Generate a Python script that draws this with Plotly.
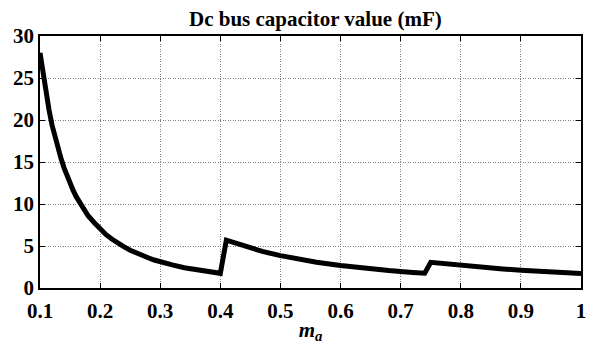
import plotly.graph_objects as go

m_a = [0.100, 0.105, 0.110, 0.115, 0.120, 0.125, 0.130, 0.135, 0.140, 0.145,
       0.150, 0.155, 0.160, 0.165, 0.170, 0.175, 0.180, 0.190, 0.200, 0.210,
       0.22, 0.23, 0.24, 0.25, 0.26, 0.27, 0.28, 0.29, 0.30, 0.32, 0.34, 0.36,
       0.38, 0.40,
       0.41, 0.43, 0.45, 0.47, 0.50, 0.53, 0.56, 0.60, 0.64, 0.68, 0.72, 0.74,
       0.75, 0.78, 0.81, 0.84, 0.87, 0.90, 0.93, 0.96, 1.00]
cap_mF = [28.0, 25.4, 23.2, 21.2, 19.4, 17.9, 16.6, 15.4, 14.3, 13.3,
          12.4, 11.65, 10.9, 10.3, 9.7, 9.15, 8.6, 7.8, 7.0, 6.35,
          5.8, 5.3, 4.9, 4.5, 4.15, 3.85, 3.6, 3.33, 3.1, 2.75, 2.42, 2.16,
          1.94, 1.75,
          5.7, 5.2, 4.75, 4.35, 3.85, 3.42, 3.07, 2.68, 2.35, 2.08, 1.85, 1.76,
          3.05, 2.82, 2.62, 2.43, 2.27, 2.12, 1.99, 1.87, 1.73]

x_ticks = [0.1, 0.2, 0.3, 0.4, 0.5, 0.6, 0.7, 0.8, 0.9, 1.0]
x_tick_labels = ["0.1", "0.2", "0.3", "0.4", "0.5", "0.6", "0.7", "0.8", "0.9", "1"]
y_ticks = [0, 5, 10, 15, 20, 25, 30]
y_tick_labels = ["0", "5", "10", "15", "20", "25", "30"]

FONT = "Liberation Serif"

fig = go.Figure()
fig.add_trace(go.Scatter(x=m_a, y=cap_mF, mode="lines",
                         line=dict(color="black", width=5), showlegend=False))

axis_common = dict(
    showline=True, linecolor="black", linewidth=1.5, mirror="ticks",
    ticks="inside", ticklen=5, tickwidth=1, tickcolor="black",
    showgrid=True, gridcolor="#808080", gridwidth=1, griddash="1px,1.5px",
    zeroline=False,
    tickfont=dict(family=FONT, size=21, color="black", weight="bold"),
)

fig.update_xaxes(range=[0.1, 1.0], tickvals=x_ticks, ticktext=x_tick_labels,
                 ticklabelstandoff=3,
                 title=dict(text="<i><b>m</b><sub>a</sub></i>",
                            font=dict(family=FONT, size=21, color="black", weight="bold"),
                            standoff=0),
                 **axis_common)
fig.update_yaxes(range=[0, 30], tickvals=y_ticks, ticktext=y_tick_labels,
                 **axis_common)

fig.update_layout(
    width=595, height=347,
    margin=dict(l=40, r=9, t=36, b=51),
    paper_bgcolor="white", plot_bgcolor="white",
    title=dict(text="<b>Dc bus capacitor value (mF)</b>", x=0.53, xanchor="center",
               y=0.945, yanchor="middle",
               font=dict(family=FONT, size=21, color="black", weight="bold")),
)

fig.write_html("out.html")
